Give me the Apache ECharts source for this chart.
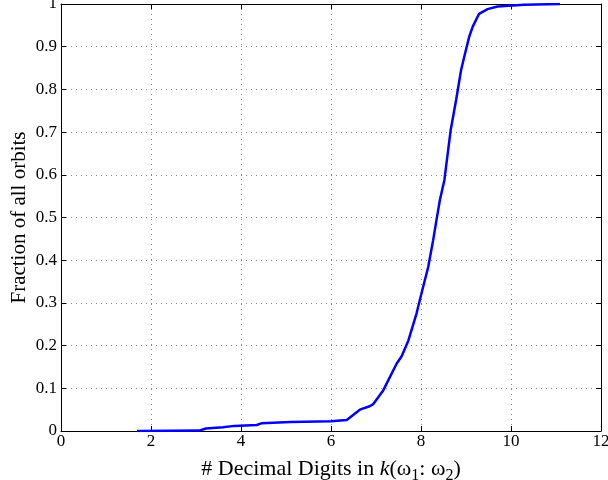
<!DOCTYPE html>
<html><head><meta charset="utf-8">
<script src="https://cdn.jsdelivr.net/npm/echarts@6/dist/echarts.min.js"></script>
<style>html,body{margin:0;padding:0;background:#fff}#c{width:608px;height:480px}</style>
</head><body><div id="c"></div>
<script>
var digits = [1.69, 3.07, 3.22, 3.6, 3.85, 4.35, 4.45, 5.1, 6.0, 6.35, 6.64, 6.86, 6.94, 7.16, 7.46, 7.57, 7.72, 7.9, 8.01, 8.16, 8.27, 8.35, 8.42, 8.52, 8.66, 8.78, 8.89, 8.96, 9.07, 9.15, 9.29, 9.48, 9.7, 10.29, 10.32, 11.09];
var fraction = [0, 0.001, 0.006, 0.009, 0.012, 0.014, 0.018, 0.021, 0.023, 0.026, 0.05, 0.058, 0.063, 0.095, 0.158, 0.175, 0.212, 0.275, 0.322, 0.384, 0.447, 0.498, 0.541, 0.588, 0.705, 0.775, 0.845, 0.876, 0.923, 0.947, 0.977, 0.988, 0.994, 0.998, 1.0, 1.0];
var xTicks = ['0', '2', '4', '6', '8', '10', '12'];
var yTicks = ['0', '0.1', '0.2', '0.3', '0.4', '0.5', '0.6', '0.7', '0.8', '0.9', '1'];

var pts = digits.map(function (d, i) { return [d, fraction[i]]; });
var font = 'Liberation Serif';
var gridLine = { show: true, lineStyle: { color: '#888', type: [1, 4], width: 1 } };
var axisLine = { show: true, onZero: false, lineStyle: { color: '#000', width: 1 } };
var tick = { show: true, inside: true, length: 5, lineStyle: { color: '#000' } };
var labRich = { t: { fontFamily: font, fontSize: 17, color: '#000' } };

var chart = echarts.init(document.getElementById('c'));
chart.setOption({
  animation: false,
  textStyle: { fontFamily: font, color: '#000' },
  grid: { left: 61, right: 7, top: 4, bottom: 49, containLabel: false, outerBoundsMode: 'none' },
  xAxis: [{
    type: 'value', min: 0, max: 12, interval: 2, position: 'bottom',
    axisLine: axisLine, axisTick: tick, splitLine: gridLine,
    axisLabel: { fontFamily: font, fontSize: 17, color: '#000', margin: 2, rich: labRich,
      formatter: function (v, i) { return '{t|' + xTicks[i] + '}'; } },
    name: '{n|# Decimal Digits in }{i|k}{n|(ω}{s|1}{n|: ω}{s|2}{n|)}',
    nameLocation: 'middle', nameGap: 23, nameMoveOverlap: false,
    nameTextStyle: { fontFamily: font, color: '#000',
      rich: {
        n: { fontFamily: font, fontSize: 22, color: '#000' },
        i: { fontFamily: font, fontSize: 22, fontStyle: 'italic', color: '#000' },
        s: { fontFamily: font, fontSize: 16, color: '#000', padding: [14, 0, 0, 0] }
      } }
  }, {
    type: 'value', min: 0, max: 12, interval: 2, position: 'top',
    axisLine: axisLine, axisTick: tick, splitLine: { show: false }, axisLabel: { show: false }
  }],
  yAxis: [{
    type: 'value', min: 0, max: 1, interval: 0.1, position: 'left',
    axisLine: axisLine, axisTick: tick, splitLine: gridLine,
    axisLabel: { fontFamily: font, fontSize: 17, color: '#000', margin: 4, rich: labRich,
      formatter: function (v, i) { return '{t|' + yTicks[i] + '}'; } },
    name: 'Fraction of all orbits', nameLocation: 'middle', nameGap: 31, nameMoveOverlap: false,
    nameTextStyle: { fontFamily: font, fontSize: 21, color: '#000' }
  }, {
    type: 'value', min: 0, max: 1, interval: 0.1, position: 'right',
    axisLine: axisLine, axisTick: tick, splitLine: { show: false }, axisLabel: { show: false }
  }],
  series: [{
    type: 'line', data: pts, showSymbol: false, symbol: 'none',
    lineStyle: { color: '#0000ff', width: 2.5 }, xAxisIndex: 0, yAxisIndex: 0
  }]
});
</script></body></html>
